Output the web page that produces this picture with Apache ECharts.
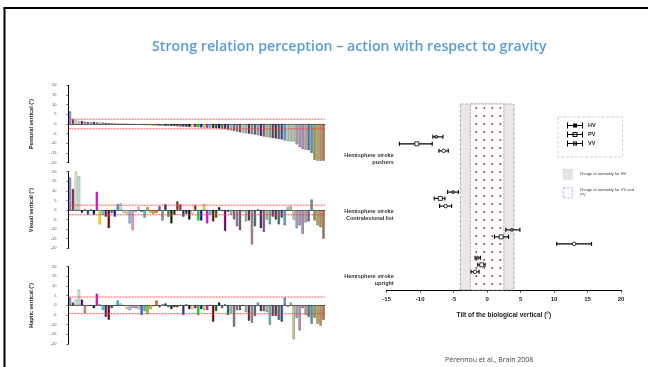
<!DOCTYPE html>
<html><head><meta charset="utf-8">
<script src="https://cdn.jsdelivr.net/npm/echarts@6/dist/echarts.min.js"></script>
<style>html,body{margin:0;padding:0;background:#fff}#c{width:648px;height:367px}</style>
</head><body><div id="c"></div>
<script>
// ---------- DATA ----------
const patients = Array.from({length: 86}, (_, i) => 'P' + (i + 1));
const posturalVertical = [6.5,2.5,2,1.5,1.5,1.2,1,1,1,0.8,0.8,0.8,0.6,0.5,0.4,0.3,0,0,0,0,
  -0.3,-0.3,-0.4,-0.4,-0.5,-0.5,-0.6,-0.7,-0.8,-0.8,-0.9,-0.9,-1,-1,-1,-1.1,-1.2,-1.3,-1.4,-1.5,
  -1.5,-1.6,-1.6,-1.7,-1.8,-1.9,-2,-2,-2.1,-2.2,-2.3,-2.5,-2.6,-3,-3.3,-3.6,-4,-4.3,-4.6,-4.8,
  -5,-5.3,-5.5,-5.8,-6.2,-6.5,-6.8,-7,-7.3,-7.5,-7.8,-8,-8.5,-8.8,-9,-9,-10.5,-12,-13,-13.3,
  -13.5,-15,-18.5,-19,-19,-19];
const visualVertical = [17,11,20,17.5,-1.5,0.5,-2.5,0.5,-2.5,9.5,-7.5,-2.5,-3.5,-9.5,-1.5,-3.5,3,3.5,-1.5,-2,
  -7,-10.5,-1,1.5,-1,-4,1.5,-1.5,-2,-1.5,2,-5.5,3,-3.5,-7,-2.5,4.5,3,-3.5,-2,
  -5,-2,2.5,-5.5,-5.5,3,-7,-2.5,-6,-4,1.5,-0.5,-11,-1,-2.5,-5,-8.5,-10.5,-1,-6,
  -5.5,-18,-8.5,0.5,-9.5,-11.5,-5,-7.5,-3.5,-5,-7.5,-4,-8,1.5,2,-5,-9.5,-8,-12.5,-6.5,
  -6,5.5,-5.5,-8,-9,-15];
const hapticVertical = [4,1.5,3,8,3,-4,0,0,-1.5,6,0.5,-2.5,-6,-7.5,-1.5,0,2.5,1,0,-2,
  -2.5,-1.5,-1.5,-2,-5,-3,-4.5,-2,-0.5,2.5,-1,0.5,1,-1,-2,-1,-1,0,-5,0.5,
  -2,-2,-1.5,-5,-2,-2.5,-2.5,0,-8.5,-3,1.5,-1.5,0.5,-5,-4,-11,-2.5,-2.5,0,-3.5,
  -8,-9,-5.5,1.5,-3,-3,-3.5,-10,-5.5,-5.5,-7.5,-8.5,4,-1,1.5,-17.5,-6.5,-13,-1.5,-5,
  -6,-9.5,-6.5,-9.5,-10.5,-7.5];
const normalPV = 2.5, normalVV = 2.5, normalHV = 4.3;
const leftTicks = {min: -20, max: 20, step: 5};

// right panel: [row, mean, low, high]
const groupLabels = ['Hemisphere stroke\npushers', 'Hemisphere stroke\nContralesional list', 'Hemisphere stroke\nupright'];
const groupLabelRows = [7.9, 15.9, 25.2];
const hvData = [[4.7,-7.6,-8.1,-6.6],[12.6,-5.1,-5.9,-4.3],[18,3.7,2.8,4.9],[22,-1.4,-1.8,-1.0]];
const pvData = [[5.7,-10.5,-13.1,-8.2],[13.5,-7.0,-7.9,-6.3],[19,2.1,1.1,3.2],[23,-0.8,-1.4,-0.3]];
const vvData = [[6.7,-6.5,-7.2,-5.8],[14.6,-6.2,-7.1,-5.3],[20,13.0,10.4,15.6],[24,-1.8,-2.4,-1.2]];
const rangeHV = [-4, 4];
const rangeVVPV = [-2.5, 2.5];
const tiltTicks = {min: -15, max: 20, step: 5};

// ---------- STYLE ----------
const palette = ['#9999FF','#993366','#FFFFCC','#CCFFFF','#660066','#FF8080','#0066CC','#CCCCFF',
 '#000080','#FF00FF','#FFFF00','#00FFFF','#800080','#800000','#008080','#0000FF',
 '#00CCFF','#CCFFFF','#CCFFCC','#FFFF99','#99CCFF','#FF99CC','#CC99FF','#FFCC99',
 '#3366FF','#33CCCC','#99CC00','#FFCC00','#FF9900','#FF6600','#666699','#969696',
 '#003366','#339966','#003300','#333300','#993300','#993366','#333399','#333333',
 '#000000','#FFFFFF','#FF0000','#00FF00','#0000FF','#FFFF00','#FF00FF','#00FFFF',
 '#800000','#008000','#000080','#808000','#800080','#008080','#C0C0C0','#808080',
 '#8C8CB8','#8C5C74','#D6D6B4','#A4C4C4','#5C3A5C','#C08A8A','#48709A','#A8A8C8',
 '#34346C','#A658A6','#C8C864','#64BEBE','#6C406C','#6C3030','#407C7C','#4444B8',
 '#60A8C8','#B8D8D8','#B4D4B4','#D4D494','#90B0D0','#C890A8','#A890C8','#C8A890',
 '#5070B8','#50A0A0','#90A050','#C8A840','#C89048','#B87048'];

const F = '"Liberation Sans", Arial, sans-serif';
const panels = [
  {name: 'Postural vertical (°)', data: posturalVertical, lim: [normalPV, -normalPV], top: 85.3, h: 77.4},
  {name: 'Visual vertical (°)', data: visualVertical, lim: [normalVV, -normalVV], top: 171.7, h: 76.6},
  {name: 'Haptic vertical (°)', data: hapticVertical, lim: [normalHV, -normalHV], top: 266.7, h: 77.3}
];

const dot = document.createElement('canvas');
dot.width = 8; dot.height = 8;
const dctx = dot.getContext('2d');
dctx.fillStyle = '#ffffff'; dctx.fillRect(0, 0, 8, 8);
dctx.fillStyle = '#8e3b69'; dctx.beginPath(); dctx.arc(4.3, 4, 0.95, 0, Math.PI * 2); dctx.fill();

function limitLine(params, api) {
  const cs = params.coordSys;
  const y = api.coord([0, api.value(1)])[1];
  return {type: 'line', shape: {x1: cs.x, y1: y, x2: cs.x + cs.width, y2: y},
    style: {stroke: '#ff3b3b', lineWidth: 0.9, lineDash: [2, 1]}};
}

const grid = [], xAxis = [], yAxis = [], series = [];
panels.forEach((p, i) => {
  grid.push({left: 68.5, top: p.top, width: 256.5, height: p.h});
  xAxis.push({type: 'category', gridIndex: i, data: patients,
    axisLine: {onZero: true, lineStyle: {color: '#444', width: 0.8}},
    axisTick: {show: false}, axisLabel: {show: false}, splitLine: {show: false}});
  yAxis.push({type: 'value', gridIndex: i, min: leftTicks.min, max: leftTicks.max, interval: leftTicks.step,
    axisLine: {show: true, lineStyle: {color: '#000', width: 1}},
    axisTick: {show: true, length: 2, lineStyle: {color: '#000', width: 0.6}},
    axisLabel: {fontSize: 4, color: '#555', margin: 12, fontFamily: F},
    splitLine: {show: false},
    name: p.name, nameLocation: 'middle', nameGap: 34,
    nameTextStyle: {fontSize: 5.5, fontWeight: 'bold', color: '#222', fontFamily: F}});
  series.push({type: 'bar', xAxisIndex: i, yAxisIndex: i, data: p.data, barCategoryGap: '22%',
    itemStyle: {color: (q) => palette[q.dataIndex % palette.length], borderColor: 'rgba(0,0,0,0.6)', borderWidth: 0.45},
    silent: true, animation: false});
  series.push({type: 'custom', xAxisIndex: i, yAxisIndex: i, z: 6, silent: true, animation: false,
    data: p.lim.map(v => [0, v]), encode: {x: 0, y: 1}, renderItem: limitLine});
});

// right panel
grid.push({left: 386.7, top: 104, width: 234.3, height: 186});
xAxis.push({type: 'value', gridIndex: 3, min: tiltTicks.min, max: tiltTicks.max, interval: tiltTicks.step,
  axisLine: {show: true, onZero: false, lineStyle: {color: '#000', width: 1.2}},
  axisTick: {show: true, length: 2.5, lineStyle: {color: '#000', width: 0.8}},
  axisLabel: {fontSize: 6, fontWeight: 'bold', color: '#222', margin: 6, fontFamily: F},
  splitLine: {show: false},
  name: 'Tilt of the biological vertical (°)', nameLocation: 'middle', nameGap: 22,
  nameTextStyle: {fontSize: 6.5, fontWeight: 'bold', color: '#222', fontFamily: F}});
yAxis.push({type: 'value', gridIndex: 3, inverse: true, min: 0, max: 26.6,
  axisLine: {show: false}, axisTick: {show: false}, splitLine: {show: false},
  axisLabel: {show: true, customValues: groupLabelRows, margin: -7, fontSize: 5.5, fontWeight: 'bold',
    color: '#333', lineHeight: 7, align: 'right', fontFamily: F,
    formatter: (v) => {
      let best = -1, d = 1e9;
      groupLabelRows.forEach((r, k) => { if (Math.abs(r - v) < d) { d = Math.abs(r - v); best = k; } });
      return d < 0.05 ? groupLabels[best] : '';
    }}});

function errRender(kind) {
  return function (params, api) {
    const y = api.value(0), m = api.value(1), lo = api.value(2), hi = api.value(3);
    const a = api.coord([lo, y]), b = api.coord([hi, y]), c = api.coord([m, y]);
    const st = {stroke: '#000', lineWidth: 1.1};
    const ch = [
      {type: 'line', shape: {x1: a[0], y1: a[1], x2: b[0], y2: b[1]}, style: st},
      {type: 'line', shape: {x1: a[0], y1: a[1] - 2, x2: a[0], y2: a[1] + 2}, style: st},
      {type: 'line', shape: {x1: b[0], y1: b[1] - 2, x2: b[0], y2: b[1] + 2}, style: st}
    ];
    if (kind === 'PV') ch.push({type: 'rect', shape: {x: c[0] - 2, y: c[1] - 2, width: 4, height: 4}, style: {fill: '#fff', stroke: '#000', lineWidth: 0.8}});
    else if (kind === 'VV') ch.push({type: 'circle', shape: {cx: c[0], cy: c[1], r: 1.8}, style: {fill: '#fff', stroke: '#000', lineWidth: 0.8}});
    else ch.push({type: 'circle', shape: {cx: c[0], cy: c[1], r: 1.5}, style: {fill: '#888', stroke: '#000', lineWidth: 0.7}});
    return {type: 'group', children: ch};
  };
}
[['HV', hvData], ['PV', pvData], ['VV', vvData]].forEach(([k, d]) => {
  series.push({type: 'custom', name: k, xAxisIndex: 3, yAxisIndex: 3, data: d, z: 5,
    dimensions: ['row', 'mean', 'low', 'high'], encode: {x: [1, 2, 3], y: 0},
    itemStyle: {color: '#000'}, renderItem: errRender(k), animation: false, silent: true});
});
series.push({type: 'line', name: 'Range of normality for HV', xAxisIndex: 3, yAxisIndex: 3, data: [], z: 1,
  itemStyle: {color: '#e8e8e8'}, silent: true,
  markArea: {silent: true, itemStyle: {color: '#e8e8e8', borderColor: '#9a9a9a', borderWidth: 0.8, borderType: 'dashed'},
    data: [[{xAxis: rangeHV[0]}, {xAxis: rangeHV[1]}]]}});
series.push({type: 'line', name: 'Range of normality for VV and PV', xAxisIndex: 3, yAxisIndex: 3, data: [], z: 2,
  itemStyle: {color: '#ffffff'}, silent: true,
  markArea: {silent: true, itemStyle: {color: {image: dot, repeat: 'repeat'}, borderColor: '#a07090', borderWidth: 0.6, borderType: 'dashed'},
    data: [[{xAxis: rangeVVPV[0]}, {xAxis: rangeVVPV[1]}]]}});

const cap = 'M0,0h1v6h-1z M15,0h1v6h-1z M0,2.5h16v1h-16z ';
const option = {
  backgroundColor: '#fff',
  animation: false,
  title: [
    {text: 'Strong relation perception – action with respect to gravity', left: 147, top: 35,
      textStyle: {fontSize: 14.2, fontWeight: 600, color: '#5b9bd5', fontFamily: '"Open Sans", sans-serif'}},
    {text: 'Pérennou et al., Brain 2008', left: 440, top: 351,
      textStyle: {fontSize: 7, fontWeight: 'normal', color: '#444', fontFamily: '"Open Sans", sans-serif'}}
  ],
  legend: [
    {orient: 'vertical', left: 558, top: 117, itemWidth: 16, itemHeight: 6, itemGap: 3,
      padding: [5.5, 27, 10.5, 9], borderColor: '#c8c8c8', borderWidth: 0.8, borderType: 'dashed',
      selectedMode: false,
      textStyle: {fontSize: 5.5, fontWeight: 'bold', color: '#222', lineHeight: 6, fontFamily: F},
      itemStyle: {color: '#000'},
      data: [
        {name: 'HV', icon: 'path://' + cap + 'M6,1h4v4h-4z'},
        {name: 'PV', icon: 'path://' + cap + 'M5.5,0.5h5v5h-5z M6.5,1.5v3h3v-3z'},
        {name: 'VV', icon: 'path://' + cap + 'M6,1h4v4h-4z M7,2v2h2v-2z'}
      ]},
    {orient: 'vertical', left: 563, top: 169, itemWidth: 9, itemHeight: 10, itemGap: 8,
      selectedMode: false, padding: 0,
      textStyle: {fontSize: 4, color: '#444', lineHeight: 5, fontFamily: F, padding: [0, 0, 0, 3]},
      formatter: (n) => n === 'Range of normality for VV and PV' ? 'Range of normality for VV and\nPV' : n,
      data: [
        {name: 'Range of normality for HV', icon: 'rect', itemStyle: {color: '#e6e6e6', borderColor: '#c8c8c8', borderWidth: 0.5}},
        {name: 'Range of normality for VV and PV', icon: 'rect', itemStyle: {color: '#fff', borderColor: '#7a86b8', borderWidth: 0.6, borderType: 'dashed'}}
      ]}
  ],
  graphic: [
    {type: 'line', shape: {x1: 3.5, y1: 8, x2: 648, y2: 8}, style: {stroke: '#000', lineWidth: 2}, silent: true},
    {type: 'line', shape: {x1: 4.5, y1: 8, x2: 4.5, y2: 367}, style: {stroke: '#000', lineWidth: 2}, silent: true}
  ],
  grid, xAxis, yAxis, series
};
const chart = echarts.init(document.getElementById('c'), null, {renderer: 'canvas'});
chart.setOption(option);
</script></body></html>
